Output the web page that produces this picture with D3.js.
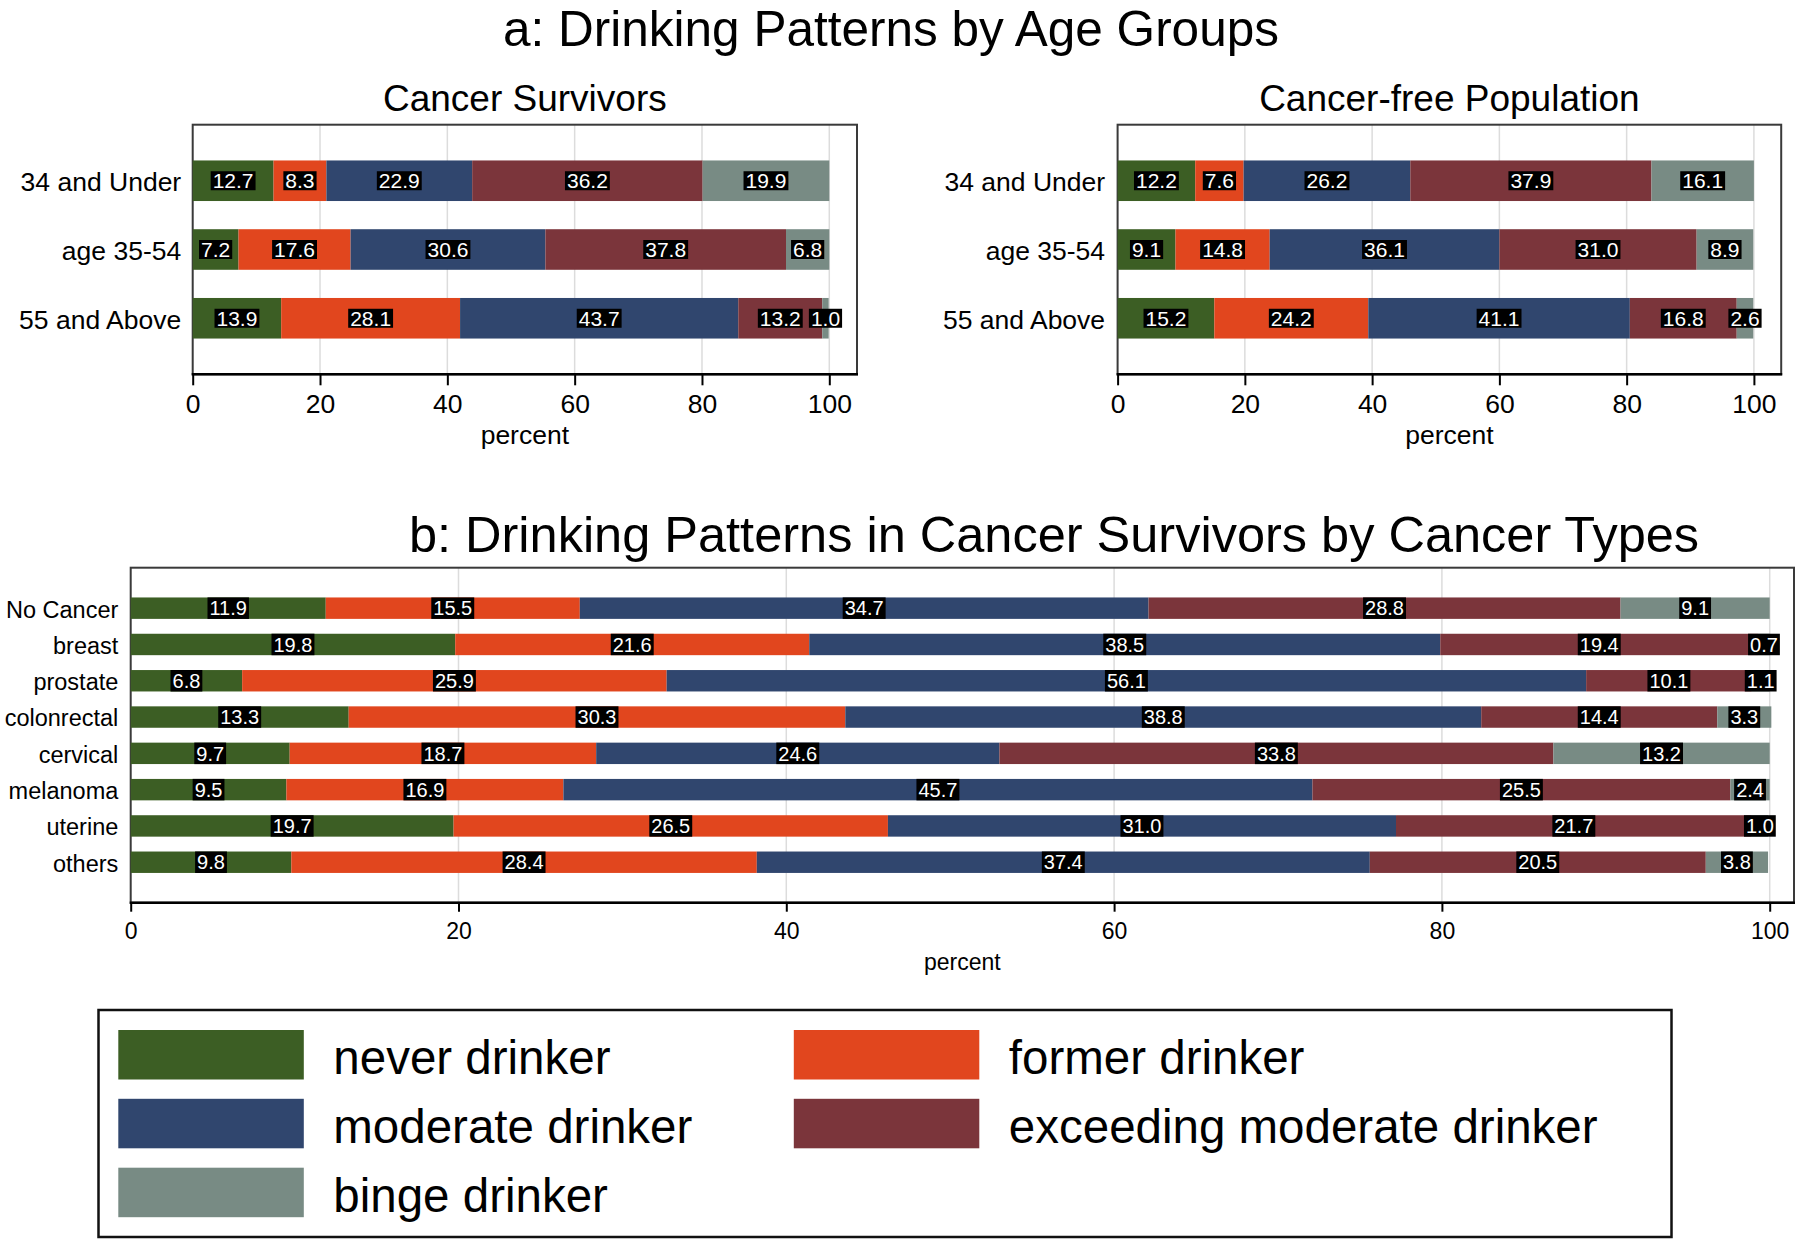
<!DOCTYPE html>
<html>
<head>
<meta charset="utf-8">
<title>Drinking Patterns</title>
<script src="https://d3js.org/d3.v7.min.js"></script>
<style>
  body { margin: 0; background: #fff; }
  text { font-family: "Liberation Sans", Arial, Helvetica, sans-serif; }
</style>
</head>
<body>
<script>
// ---- data ----
var keys = ["never", "former", "moderate", "exceeding", "binge"];
var legendLabels = ["never drinker", "former drinker", "moderate drinker", "exceeding moderate drinker", "binge drinker"];
var colors = ["#3c5e24", "#e1461e", "#30466e", "#7b353b", "#788b84"];
var xTicks = [0, 20, 40, 60, 80, 100];

var ageGroups = ["34 and Under", "age 35-54", "55 and Above"];
var survNever     = [12.7, 7.2, 13.9];
var survFormer    = [8.3, 17.6, 28.1];
var survModerate  = [22.9, 30.6, 43.7];
var survExceeding = [36.2, 37.8, 13.2];
var survBinge     = [19.9, 6.8, 1.0];

var freeNever     = [12.2, 9.1, 15.2];
var freeFormer    = [7.6, 14.8, 24.2];
var freeModerate  = [26.2, 36.1, 41.1];
var freeExceeding = [37.9, 31.0, 16.8];
var freeBinge     = [16.1, 8.9, 2.6];

var cancerTypes = ["No Cancer", "breast", "prostate", "colonrectal", "cervical", "melanoma", "uterine", "others"];
var typeNever     = [11.9, 19.8, 6.8, 13.3, 9.7, 9.5, 19.7, 9.8];
var typeFormer    = [15.5, 21.6, 25.9, 30.3, 18.7, 16.9, 26.5, 28.4];
var typeModerate  = [34.7, 38.5, 56.1, 38.8, 24.6, 45.7, 31.0, 37.4];
var typeExceeding = [28.8, 19.4, 10.1, 14.4, 33.8, 25.5, 21.7, 20.5];
var typeBinge     = [9.1, 0.7, 1.1, 3.3, 13.2, 2.4, 1.0, 3.8];

var W = 1800, H = 1245;
var svg = d3.select("body").append("svg").attr("width", W).attr("height", H);
svg.append("rect").attr("width", W).attr("height", H).attr("fill", "#fff");

function makeTable(labels, series) {
  return labels.map(function(l, i) {
    var o = { label: l };
    keys.forEach(function(k, j) { o[k] = series[j][i]; });
    return o;
  });
}

function drawPanel(o) {
  var g = svg.append("g");
  var x = d3.scaleLinear().domain([0, 100]).range([o.x0, o.x100]);
  var y = d3.scaleBand().domain(o.labels).range([o.top, o.bottom])
    .paddingInner(0.41).paddingOuter(o.outer);

  // grid
  g.selectAll(".grid").data(xTicks.slice(1)).enter().append("line")
    .attr("x1", function(d) { return x(d); }).attr("x2", function(d) { return x(d); })
    .attr("y1", o.top).attr("y2", o.bottom)
    .attr("stroke", "#dcdcdc").attr("stroke-width", 1.5);

  // frame
  g.append("rect").attr("x", o.x0).attr("y", o.top)
    .attr("width", o.right - o.x0).attr("height", o.bottom - o.top)
    .attr("fill", "none").attr("stroke", "#3a3a3a").attr("stroke-width", 2);

  var table = makeTable(o.labels, o.series);
  var stacked = d3.stack().keys(keys)(table);

  g.selectAll(".layer").data(stacked).enter().append("g")
    .attr("fill", function(d, i) { return colors[i]; })
    .selectAll("rect").data(function(d) { return d; }).enter().append("rect")
    .attr("x", function(d) { return x(d[0]); })
    .attr("width", function(d) { return x(d[1]) - x(d[0]); })
    .attr("y", function(d) { return y(d.data.label); })
    .attr("height", y.bandwidth());

  // value labels
  stacked.forEach(function(layer) {
    layer.forEach(function(d) {
      var cx = x((d[0] + d[1]) / 2);
      var cy = y(d.data.label) + y.bandwidth() / 2;
      var lg = g.append("g");
      var box = lg.append("rect").attr("fill", "#000");
      var t = lg.append("text")
        .attr("x", cx).attr("y", cy + o.labelSize * 0.36)
        .attr("text-anchor", "middle").attr("fill", "#fff")
        .attr("font-size", o.labelSize)
        .text((d[1] - d[0]).toFixed(1));
      var w = t.node().getComputedTextLength() + 4;
      box.attr("x", cx - w / 2).attr("y", cy - o.boxH / 2)
        .attr("width", w).attr("height", o.boxH);
    });
  });

  // x axis
  var ax = g.append("g").attr("transform", "translate(0," + o.bottom + ")")
    .call(d3.axisBottom(x).tickValues(xTicks).tickSize(o.tickLen).tickPadding(o.tickPad));
  ax.select(".domain").remove();
  ax.selectAll(".tick line").attr("stroke", "#000").attr("stroke-width", 2);
  ax.selectAll(".tick text").attr("font-size", o.tickSize).attr("fill", "#000")
    .style("font-family", "'Liberation Sans', Arial, sans-serif");
  g.append("line").attr("x1", o.x0 - 1).attr("x2", o.right + 1)
    .attr("y1", o.bottom).attr("y2", o.bottom)
    .attr("stroke", "#000").attr("stroke-width", 2.5);

  // y axis
  var ay = g.append("g").attr("transform", "translate(" + o.x0 + ",0)")
    .call(d3.axisLeft(y).tickSize(0).tickPadding(o.yPad));
  ay.select(".domain").remove();
  ay.selectAll(".tick text").attr("font-size", o.ySize).attr("fill", "#000")
    .attr("dy", "0.4em")
    .style("font-family", "'Liberation Sans', Arial, sans-serif");

  var mid = (o.x0 + o.right) / 2;
  g.append("text").attr("x", mid).attr("y", o.axisTitleY)
    .attr("text-anchor", "middle").attr("font-size", o.tickSize).text("percent");

  if (o.title) {
    g.append("text").attr("x", mid).attr("y", o.titleY)
      .attr("text-anchor", "middle").attr("font-size", 37).text(o.title);
  }
}

// main titles
svg.append("text").attr("x", 891).attr("y", 46).attr("text-anchor", "middle")
  .attr("font-size", 49.5).text("a: Drinking Patterns by Age Groups");
svg.append("text").attr("x", 1054).attr("y", 552).attr("text-anchor", "middle")
  .attr("font-size", 50.5).text("b: Drinking Patterns in Cancer Survivors by Cancer Types");

drawPanel({
  labels: ageGroups,
  series: [survNever, survFormer, survModerate, survExceeding, survBinge],
  x0: 192.7, x100: 829.3, right: 857, top: 124.7, bottom: 374.3, outer: 0.52,
  labelSize: 21, boxH: 19, tickLen: 11, tickPad: 8.5, tickSize: 26.5,
  ySize: 26.5, yPad: 11.5, axisTitleY: 444, title: "Cancer Survivors", titleY: 111
});

drawPanel({
  labels: ageGroups,
  series: [freeNever, freeFormer, freeModerate, freeExceeding, freeBinge],
  x0: 1117.6, x100: 1753.9, right: 1781.2, top: 124.7, bottom: 374.3, outer: 0.52,
  labelSize: 21, boxH: 19, tickLen: 11, tickPad: 8.5, tickSize: 26.5,
  ySize: 26.5, yPad: 12.5, axisTitleY: 444, title: "Cancer-free Population", titleY: 111
});

drawPanel({
  labels: cancerTypes,
  series: [typeNever, typeFormer, typeModerate, typeExceeding, typeBinge],
  x0: 130.7, x100: 1769.7, right: 1794, top: 567.7, bottom: 902.7, outer: 0.82,
  labelSize: 20, boxH: 21.5, tickLen: 9, tickPad: 11, tickSize: 23,
  ySize: 23.5, yPad: 12.4, axisTitleY: 970
});

// legend
var legend = svg.append("g");
legend.append("rect").attr("x", 98.5).attr("y", 1010).attr("width", 1573).attr("height", 227)
  .attr("fill", "none").attr("stroke", "#111").attr("stroke-width", 2.5);
var colX = [118.3, 793.8];
var rowY = [1030, 1098.8, 1167.7];
legendLabels.forEach(function(lab, i) {
  var cx = colX[i % 2], cy = rowY[Math.floor(i / 2)];
  legend.append("rect").attr("x", cx).attr("y", cy).attr("width", 185.5).attr("height", 49.5)
    .attr("fill", colors[i]);
  legend.append("text").attr("x", cx + 215).attr("y", cy + 44)
    .attr("font-size", 47.5).text(lab);
});
</script>
</body>
</html>
